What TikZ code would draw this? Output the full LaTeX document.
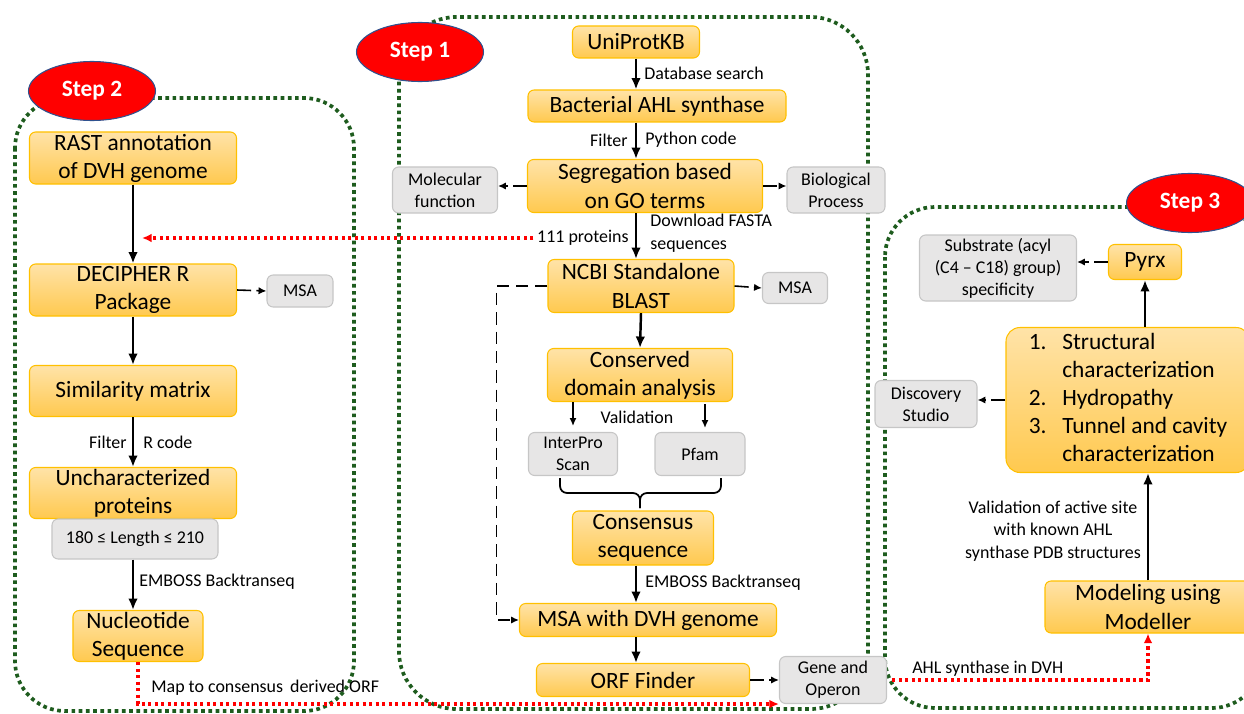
\documentclass[tikz,border=0pt]{standalone}
\usepackage{fontspec}
\setmainfont{Carlito}
\usepackage{tikz}
\usetikzlibrary{shapes.geometric, arrows.meta}

\definecolor{obtop}{HTML}{FFE3A8}
\definecolor{obbot}{HTML}{FFC94F}
\definecolor{obline}{HTML}{FFC000}
\definecolor{gbfill}{HTML}{E7E6E6}
\definecolor{gbline}{HTML}{C6C6C6}
\definecolor{stepred}{HTML}{FF0000}
\definecolor{stepblue}{HTML}{2F528F}
\definecolor{dotgreen}{HTML}{1E5C1E}

\tikzset{
	obox/.style={draw=obline, line width=0.6pt, top color=obtop, bottom color=obbot, rounded corners=3.5pt, align=center, inner sep=0pt, font=\fontsize{13.3}{16}\selectfont},
	gbox/.style={draw=gbline, line width=0.6pt, fill=gbfill, rounded corners=3.5pt, align=center, inner sep=0pt, font=\fontsize{10.2}{12.5}\selectfont},
	stepell/.style={ellipse, draw=stepblue, line width=0.6pt, fill=stepred, text=white, font=\fontsize{13.3}{16}\selectfont\bfseries, minimum width=2.54cm, minimum height=1.18cm},
	lbl/.style={inner sep=0pt, font=\fontsize{10.2}{12.8}\selectfont},
	arr/.style={-{Latex[length=6.5pt, width=5.5pt]}, line width=1.4pt},
	thinarr/.style={-{Latex[length=4.5pt, width=4pt]}, line width=0.9pt},
	darr/.style={-{Latex[length=4.5pt, width=4.2pt]}, line width=0.9pt, dash pattern=on 8pt off 3pt},
	reddot/.style={-{Latex[length=5.5pt, width=5pt]}, red, line width=1.9pt, dash pattern=on 1.8pt off 1.9pt},
	grnbox/.style={dotgreen, line width=2.1pt, dash pattern=on 2.1pt off 2pt},
	bracepart/.style={line width=1pt, rounded corners=4pt},
}

\begin{document}
\begin{tikzpicture}[x=0.2mm, y=-0.2mm]
	\useasboundingbox (0,0) rectangle (1244,714);
	\clip (0,0) rectangle (1244,714);
	% dotted frames of the three steps
	\draw[grnbox, rounded corners=1cm] (15,98) rectangle (354,711);
	\draw[grnbox, rounded corners=1.15cm] (399,17) rectangle (868,709);
	\draw[grnbox, rounded corners=1cm] (885,207) rectangle (1262,708);
	\node[stepell] (s2) at (92,91) {Step 2};
	\node[stepell] (s1) at (420,52) {Step 1};
	\node[stepell] (s3) at (1190,203) {Step 3};
	
	% step 2
	\node[obox, minimum width=4.14cm, minimum height=1.04cm] (rast) at (133,158) {RAST annotation\\of DVH genome};
	\node[obox, minimum width=4.14cm, minimum height=1.04cm] (decipher) at (133,290) {DECIPHER R\\Package};
	\node[gbox, minimum width=1.32cm, minimum height=0.64cm] (msa2) at (300,291) {MSA};
	\node[obox, minimum width=4.14cm, minimum height=1.02cm] (simil) at (133,391) {Similarity matrix};
	\node[obox, minimum width=4.14cm, minimum height=1.02cm] (unchar) at (133,493) {Uncharacterized\\proteins};
	\node[gbox, minimum width=3.32cm, minimum height=0.8cm] (lenbox) at (135,539) {180 ≤ Length ≤ 210};
	\node[obox, minimum width=2.6cm, minimum height=1.02cm] (nucl) at (138,636) {Nucleotide\\Sequence};
	\draw[arr] (rast.south) -- (decipher.north);
	\draw[darr] (decipher.east) -- (msa2.west);
	\draw[arr] (decipher.south) -- (simil.north);
	\draw[arr] (simil.south) -- (unchar.north);
	\node[lbl, anchor=east] (filt2) at (127,442) {Filter};
	\node[lbl, anchor=west] (rcode) at (143,442) {R code};
	\draw[arr] (lenbox.south -| rast) -- (nucl.north -| rast);
	\node[lbl, anchor=west] (emb2) at (139,582) {EMBOSS Backtranseq};
	
	% step 1
	\node[obox, minimum width=2.54cm, minimum height=0.64cm] (uniprot) at (636,42) {UniProtKB};
	\node[obox, minimum width=5.16cm, minimum height=0.64cm] (bact) at (657,106) {Bacterial AHL synthase};
	\node[obox, minimum width=4.7cm, minimum height=1.06cm] (seg) at (645,186) {Segregation based\\on GO terms};
	\node[gbox, minimum width=2.1cm, minimum height=0.92cm] (molfun) at (445,190) {Molecular\\function};
	\node[gbox, minimum width=1.96cm, minimum height=0.92cm] (biopro) at (836,190) {Biological\\Process};
	\node[obox, minimum width=3.72cm, minimum height=1.06cm] (ncbi) at (641,286) {NCBI Standalone\\BLAST};
	\node[gbox, minimum width=1.3cm, minimum height=0.62cm] (msa1) at (795,288) {MSA};
	\node[obox, minimum width=3.7cm, minimum height=1.06cm] (cons) at (640,375) {Conserved\\domain analysis};
	\node[gbox, minimum width=1.78cm, minimum height=0.86cm] (interpro) at (573,454) {InterPro\\Scan};
	\node[gbox, minimum width=1.8cm, minimum height=0.86cm] (pfam) at (700,454) {Pfam};
	\node[obox, minimum width=2.82cm, minimum height=1.08cm] (consseq) at (643,538) {Consensus\\sequence};
	\node[obox, minimum width=5.14cm, minimum height=0.66cm] (msadvh) at (648,620) {MSA with DVH genome};
	\node[obox, minimum width=4.26cm, minimum height=0.66cm] (orf) at (643,680) {ORF Finder};
	\node[gbox, minimum width=2.14cm, minimum height=0.94cm] (gene) at (833,680) {Gene and\\Operon};
	
	\draw[arr] (uniprot.south) -- (uniprot.south |- bact.north);
	\node[lbl, anchor=west] (dbsearch) at (644,73) {Database search};
	\draw[arr] (uniprot.south |- bact.south) -- (uniprot.south |- seg.north);
	\node[lbl, anchor=east] (filt1) at (628,140) {Filter};
	\node[lbl, anchor=west] (pycode) at (645,140) {Python code};
	\draw[darr] (seg.west) -- (seg.west -| molfun.east);
	\draw[darr] (seg.east) -- (seg.east -| biopro.west);
	\draw[arr] (uniprot.south |- seg.south) -- (uniprot.south |- ncbi.north);
	\node[lbl, anchor=east] (prot) at (629,238) {111 proteins};
	\node[lbl, anchor=west, align=left] (fasta) at (650,233) {Download FASTA\\sequences};
	\draw[darr] (ncbi.east) -- (msa1.west);
	\draw[darr, dash pattern=on 7pt off 4pt] (ncbi.west) -- ++(-51,0) |- (msadvh.west);
	\draw[arr] (ncbi.south) -- (cons.north);
	\draw[thinarr] (interpro.north |- cons.south) -- ++(0,24);
	\draw[thinarr] (705,404) -- ++(0,24);
	\node[lbl] (valid) at (637,417) {Validation};
	% brace under the two checks
	\draw[bracepart] (560,478) -- (560,493) -- (640,493) -- (640,508);
	\draw[bracepart] (721,478) -- (721,493) -- (640,493) -- (640,508);
	\draw[arr] (consseq.south -| uniprot) -- (msadvh.north -| uniprot);
	\node[lbl, anchor=west] (emb1) at (645,583) {EMBOSS Backtranseq};
	\draw[arr] (msadvh.south -| uniprot) -- (orf.north -| uniprot);
	\draw[darr] (orf.east) -- (gene.west);
	
	% step 3
	\node[obox, minimum width=1.46cm, minimum height=0.7cm] (pyrx) at (1145,262) {Pyrx};
	\node[gbox, minimum width=3.14cm, minimum height=1.32cm] (substr) at (998,268) {Substrate (acyl\\(C4 – C18) group)\\specificity};
	\node[obox, rounded corners=8pt, minimum width=4.88cm, minimum height=2.9cm] (charac) at (1128,400) {\begin{tabular}{@{}l@{\hspace{9pt}}l@{}}1. & Structural\\ & characterization\\2. & Hydropathy\\3. & Tunnel and cavity\\ & characterization\end{tabular}};
	\node[gbox, minimum width=2.04cm, minimum height=0.94cm] (discov) at (926,404) {Discovery\\Studio};
	\node[obox, minimum width=4.12cm, minimum height=1.04cm] (model) at (1148,607) {Modeling using\\Modeller};
	\draw[darr] (pyrx.west) -- (pyrx.west -| substr.east);
	\draw[arr] (pyrx.south |- charac.north) -- (pyrx.south);
	\draw[darr] (charac.west) -- (charac.west -| discov.east);
	\draw[arr] (model.north) -- (model.north |- charac.south);
	\node[lbl, align=center] (valtxt) at (1053,531) {Validation of active site\\with known AHL\\synthase PDB structures};
	
	% red links between the steps
	\coordinate (redend) at (142,238);
	\draw[reddot] ([xshift=-2pt]prot.west) -- (redend);
	\draw[reddot] (nucl.south) |- (gene.south west);
	\node[lbl, anchor=west] (maplbl) at (151,688) {Map to consensus\, derived ORF};
	\draw[reddot] ([xshift=3pt]gene.east) -| (model.south);
	\node[lbl, anchor=west] (ahllbl) at (912,669) {AHL synthase in DVH};
\end{tikzpicture}
\end{document}
